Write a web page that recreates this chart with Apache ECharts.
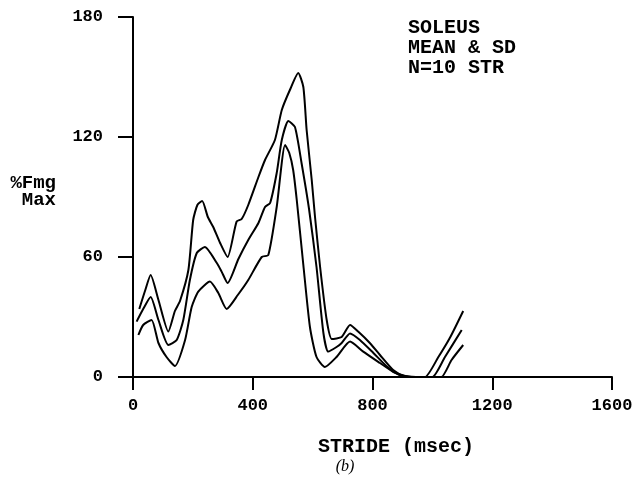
<!DOCTYPE html>
<html>
<head>
<meta charset="utf-8">
<script src="https://cdn.jsdelivr.net/npm/echarts@6/dist/echarts.min.js"></script>
<style>
html,body{margin:0;padding:0;background:#fff;}
#chart{width:632px;height:481px;}
</style>
</head>
<body>
<div id="chart"></div>
<script>
// Stride time (msec) and %EMG max for mean+SD, mean, mean-SD
var upperX = [21, 40, 59, 85, 118, 140, 157, 185, 201, 215, 231, 250, 268, 291, 316, 346, 363, 385, 419, 441, 474, 497, 524, 552, 569, 580, 597, 608, 625, 647, 664, 697, 725, 752, 791, 825, 869, 903, 940, 975, 1020, 1060, 1103];
var upperY = [34, 43, 51, 38.5, 22.7, 33, 38, 53.5, 78.5, 86, 88, 80, 75, 67, 60, 77.7, 79, 86, 100, 108.5, 118.5, 133.5, 143.5, 152, 145, 123.5, 98.5, 80, 55, 28.5, 19, 20, 26, 22.7, 17, 11, 3.5, 0.5, 0, 0, 10, 20, 33];

var meanX = [12, 34, 59, 85, 118, 146, 168, 190, 213, 240, 280, 296, 316, 352, 385, 419, 441, 458, 480, 497, 519, 541, 563, 588, 613, 636, 652, 680, 697, 725, 758, 803, 850, 890, 930, 970, 1000, 1042, 1098];
var meanY = [27.7, 34, 40, 28.5, 16, 18.5, 28.5, 48.5, 62, 65, 57, 52.7, 47, 59, 68.5, 77, 85, 87, 102, 118.5, 128, 125, 107, 84, 55, 22, 12.7, 15, 17, 21.8, 18.5, 12, 5, 1, 0, 0, 0, 10, 23.5];

var lowerX = [18, 34, 62, 85, 112, 140, 174, 196, 218, 257, 285, 313, 350, 385, 430, 452, 480, 508, 522, 535, 547, 569, 591, 613, 641, 680, 725, 769, 825, 870, 910, 960, 1000, 1030, 1064, 1103];
var lowerY = [21, 26, 28.5, 17, 10, 5.5, 18.5, 35, 42.7, 47.7, 42, 34, 41, 48.5, 60, 61, 85, 116, 112, 103.5, 88.5, 56, 25, 10, 5, 10, 17.7, 12.7, 7, 2.5, 0.5, 0, 0, 0, 8.5, 16];

var xTicks = [0, 400, 800, 1200, 1600];
var yTicks = [0, 60, 120, 180];

function pairs(xs, ys) {
  return xs.map(function (x, i) { return [x, ys[i]]; });
}

var FONT = '"Liberation Mono", "DejaVu Sans Mono", monospace';
var chart = echarts.init(document.getElementById('chart'), null, {renderer: 'canvas'});

var lineStyle = {color: '#000', width: 2};
function series(name, xs, ys) {
  return {
    name: name, type: 'line', data: pairs(xs, ys), symbol: 'none',
    smooth: 0.2, lineStyle: lineStyle, animation: false
  };
}

chart.setOption({
  backgroundColor: '#fff',
  animation: false,
  grid: {left: 133, right: 20, top: 17, bottom: 104, containLabel: false, outerBoundsMode: 'none'},
  title: {
    text: 'SOLEUS\nMEAN & SD\nN=10 STR',
    left: 408, top: 18, padding: 0,
    textStyle: {fontFamily: FONT, fontWeight: 'bold', fontSize: 20, lineHeight: 20, color: '#000'}
  },
  xAxis: {
    type: 'value', min: xTicks[0], max: xTicks[xTicks.length - 1], interval: 400,
    axisLine: {show: true, lineStyle: {color: '#000', width: 2}},
    axisTick: {show: true, length: 13, lineStyle: {color: '#000', width: 2}},
    axisLabel: {margin: 20, color: '#000', fontFamily: FONT, fontWeight: 'bold', fontSize: 17,
      formatter: function (v) { return String(v); }},
    splitLine: {show: false}
  },
  yAxis: {
    type: 'value', min: yTicks[0], max: yTicks[yTicks.length - 1], interval: 60,
    axisLine: {show: true, lineStyle: {color: '#000', width: 2}},
    axisTick: {show: true, length: 15, lineStyle: {color: '#000', width: 2}},
    axisLabel: {margin: 30, color: '#000', fontFamily: FONT, fontWeight: 'bold', fontSize: 17,
      formatter: function (v) { return String(v); }},
    splitLine: {show: false}
  },
  graphic: [
    {type: 'text', x: 56, y: 183, style: {text: '%Fmg', font: 'bold 19px ' + FONT, textAlign: 'right', textVerticalAlign: 'middle', fill: '#000'}},
    {type: 'text', x: 56, y: 200, style: {text: 'Max', font: 'bold 19px ' + FONT, textAlign: 'right', textVerticalAlign: 'middle', fill: '#000'}},
    {type: 'text', x: 396, y: 447, style: {text: 'STRIDE (msec)', font: 'bold 20px ' + FONT, textAlign: 'center', textVerticalAlign: 'middle', fill: '#000'}},
    {type: 'text', x: 345, y: 467, style: {text: '(b)', font: 'italic 16px "Liberation Serif", serif', textAlign: 'center', textVerticalAlign: 'middle', fill: '#000'}}
  ],
  series: [
    series('Mean + SD', upperX, upperY),
    series('Mean', meanX, meanY),
    series('Mean - SD', lowerX, lowerY)
  ]
});
</script>
</body>
</html>
